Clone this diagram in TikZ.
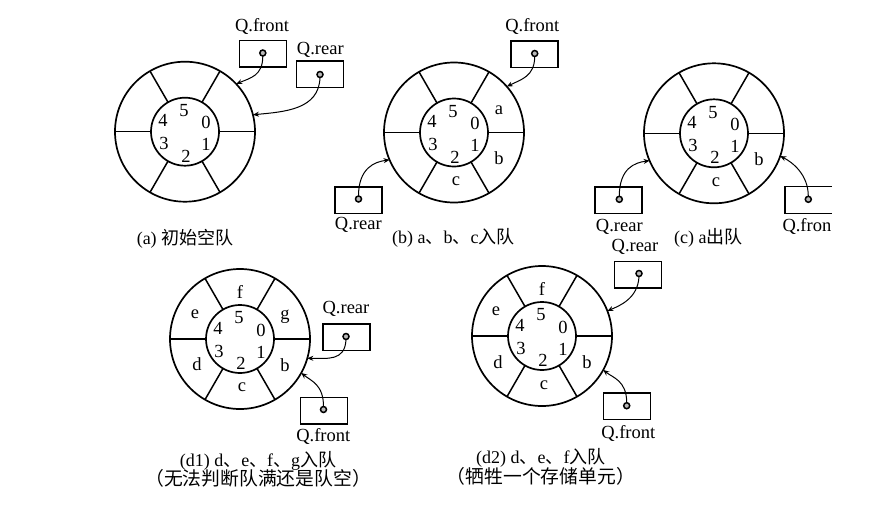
\documentclass[tikz,border=0pt]{standalone}
\usepackage{fontspec}
\setmainfont{Liberation Serif}
\newfontfamily\cjk{Noto Sans CJK SC}
\usetikzlibrary{arrows.meta,calc}
\newcommand\lf{\fontsize{18.5}{20}\selectfont}
\newcommand\cf{\fontsize{18}{20}\selectfont}
\tikzset{
  outerring/.style={circle,draw,line width=1.7pt,minimum size=140pt,inner sep=0pt,outer sep=0pt},
  innerring/.style={circle,draw,line width=1.7pt,minimum size=68pt,inner sep=0pt,outer sep=0pt},
  spoke/.style={line width=1.5pt},
  lab/.style={font=\lf,inner sep=0pt},
  captxt/.style={font=\cf,inner sep=0pt},
  ptrbox/.style={draw,line width=1.5pt,minimum width=47pt,minimum height=26.5pt,inner sep=0pt,outer sep=0pt},
  ptrdot/.style={circle,draw,line width=1.5pt,fill=gray!55,minimum size=6pt,inner sep=0pt,outer sep=0pt},
  ptr/.style={line width=1pt,-{Stealth[length=6pt,width=5pt]}}
}
\newcommand\ringdraw[3]{%
  \node[outerring] (#1o) at (#2,#3) {};
  \node[innerring] (#1i) at (#2,#3) {};
  \foreach \ang in {0,60,120,180,240,300} \draw[spoke] (#1o.\ang) -- (#1i.\ang);
  \begin{scope}[shift={(#2,#3)}]
    \node[lab] (#1n5) at (-1,-21) {5};
    \node[lab] (#1n4) at (-22,-11) {4};
    \node[lab] (#1n0) at (21,-9) {0};
    \node[lab] (#1n3) at (-21,12) {3};
    \node[lab] (#1n1) at (21,13) {1};
    \node[lab] (#1n2) at (1,24.5) {2};
  \end{scope}%
}
\begin{document}
\begin{tikzpicture}[x=1pt,y=-1pt]
\fill[white] (0,0) rectangle (894,528);
\useasboundingbox (0,0) rectangle (894,528);

% ---------- (a)
\ringdraw{a}{185}{131.7}
\node[ptrbox] (afb) at (262.8,53.7) {};
\node[ptrdot] (afd) at (262.8,53) {};
\node[lab] (aft) at (262,26.7) {Q.front};
\node[ptrbox] (arb) at (320,74.3) {};
\node[ptrdot] (ard) at (320,74.5) {};
\node[lab] (art) at (320.3,50) {Q.rear};
\draw[ptr] (afd.south) .. controls +(0,20) and +(14,-6) .. (ao.43);
\draw[ptr] (ard.south) .. controls +(-1,32) and +(32,-3) .. (ao.14);
\node[captxt] (acap) at (185,238.3) {(a) {\cjk 初始空队}};

% ---------- (b)
\ringdraw{b}{454}{132.5}
\node[lab] (ba) at ($(bo.center)+(45,-22)$) {a};
\node[lab] (bb) at ($(bo.center)+(45,26)$) {b};
\node[lab] (bc) at ($(bo.center)+(2,49)$) {c};
\node[ptrbox] (bfb) at (534.7,54.3) {};
\node[ptrdot] (bfd) at (534.7,53.5) {};
\node[lab] (bft) at (532.3,26.7) {Q.front};
\node[ptrbox] (brb) at (358.7,200) {};
\node[ptrdot] (brd) at (358.5,199) {};
\node[lab] (brt) at (358.3,225) {Q.rear};
\draw[ptr] (bfd.south) .. controls +(0,20) and +(14,-7) .. (bo.41);
\draw[ptr] (brd.north) .. controls +(0,-28) and +(-15,2) .. (bo.203);
\node[captxt] (bcap) at (453.3,238.3) {(b) a{\cjk 、}b{\cjk 、}c{\cjk 入队}};

% ---------- (c)
\ringdraw{c}{714}{133.3}
\node[lab] (cb) at ($(co.center)+(45,26)$) {b};
\node[lab] (cc) at ($(co.center)+(2,49)$) {c};
\node[ptrbox] (crb) at (618.7,200) {};
\node[ptrdot] (crd) at (619.3,199.3) {};
\node[lab] (crt) at (619.3,226.7) {Q.rear};
\node[minimum width=46.5pt,minimum height=26.6pt,inner sep=0pt,outer sep=0pt] (cfb) at (808.25,200) {};
\draw[line width=1.5pt] (cfb.north east) -- (cfb.north west) -- (cfb.south west) -- (cfb.south east);
\node[ptrdot] (cfd) at (808.3,199.3) {};
\node[lab,anchor=west] (cft) at (782.3,226.7) {Q.fron};
\draw[ptr] (crd.north) .. controls +(0,-28) and +(-15,2) .. (co.203);
\draw[ptr] (cfd.north) .. controls +(0,-22) and +(12,6) .. (co.-19);
\node[captxt] (ccap) at (708.3,238.3) {(c) a{\cjk 出队}};

% ---------- (d1)
\ringdraw{d}{240}{339}
\node[lab] (df) at ($(do.center)+(0,-47)$) {f};
\node[lab] (dg) at ($(do.center)+(45,-22)$) {g};
\node[lab] (db) at ($(do.center)+(45,26)$) {b};
\node[lab] (dc) at ($(do.center)+(2,48)$) {c};
\node[lab] (dd) at ($(do.center)+(-43,25)$) {d};
\node[lab] (de) at ($(do.center)+(-45,-25)$) {e};
\node[ptrbox] (drb) at (346.3,337.2) {};
\node[ptrdot] (drd) at (346,336.5) {};
\node[lab] (drt) at (346,309.3) {Q.rear};
\node[ptrbox] (dfb) at (324,410.8) {};
\node[ptrdot] (dfd) at (323.5,409.5) {};
\node[lab] (dft) at (323.3,436.7) {Q.front};
\draw[ptr] (drd.south) .. controls +(-1,22) and +(20,0) .. (do.-16.6);
\draw[ptr] (dfd.north) .. controls +(0,-22) and +(10,8) .. (do.-29);
\node[captxt] (dcap1) at (258,461) {(d1) d{\cjk 、}e{\cjk 、}f{\cjk 、}g{\cjk 入队}};
\node[captxt,font=\fontsize{18.8}{20}\selectfont] (dcap2) at (258,478.3) {\cjk （无法判断队满还是队空）};

% ---------- (d2)
\ringdraw{e}{542}{336}
\node[lab] (ef) at ($(eo.center)+(0,-47)$) {f};
\node[lab] (eb) at ($(eo.center)+(45,26)$) {b};
\node[lab] (ec) at ($(eo.center)+(2,49)$) {c};
\node[lab] (ed) at ($(eo.center)+(-44,26)$) {d};
\node[lab] (ee) at ($(eo.center)+(-46,-25)$) {e};
\node[ptrbox] (erb) at (637.8,274.5) {};
\node[ptrdot] (erd) at (639,273.5) {};
\node[lab] (ert) at (635,247.3) {Q.rear};
\node[ptrbox] (efb) at (627,406.3) {};
\node[ptrdot] (efd) at (626.7,405.7) {};
\node[lab] (eft) at (628.3,433.3) {Q.front};
\draw[ptr] (erd.south) .. controls +(-1,22) and +(12,-5) .. (eo.21);
\draw[ptr] (efd.north) .. controls +(0,-22) and +(10,8) .. (eo.-29);
\node[captxt] (ecap1) at (540.8,458.3) {(d2) d{\cjk 、}e{\cjk 、}f{\cjk 入队}};
\node[captxt,font=\fontsize{18.8}{20}\selectfont] (ecap2) at (540.8,476.7) {\cjk （牺牲一个存储单元）};
\end{tikzpicture}
\end{document}
